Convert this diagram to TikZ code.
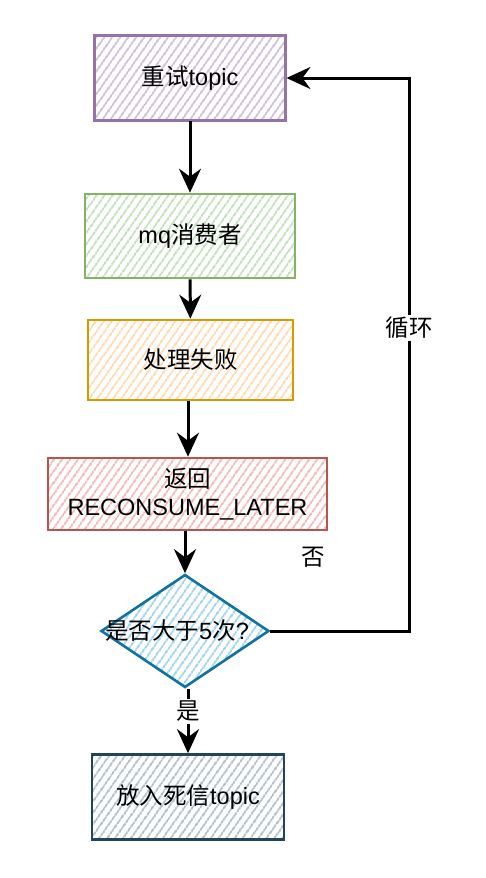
\documentclass[tikz,border=0pt]{standalone}
\usepackage{fontspec}
\setmainfont{Liberation Sans}
\newfontfamily\cjk{Noto Sans CJK SC}
\usetikzlibrary{arrows.meta,shapes.geometric,patterns.meta}
\definecolor{pS}{HTML}{9673A6}\definecolor{pF}{HTML}{CDB9D8}
\definecolor{gS}{HTML}{82B366}\definecolor{gF}{HTML}{BCDDB3}
\definecolor{oS}{HTML}{D79B00}\definecolor{oF}{HTML}{FFD6A8}
\definecolor{rS}{HTML}{B85450}\definecolor{rF}{HTML}{F2B2B0}
\definecolor{bS}{HTML}{10739E}\definecolor{bF}{HTML}{97D0EB}
\definecolor{dS}{HTML}{23445D}\definecolor{dF}{HTML}{A9BAC8}
\tikzset{
  box/.style 2 args={draw=#1, line width=2.6pt, pattern={Lines[angle=55,distance=6.5pt,line width=1.9pt]}, pattern color=#2, rectangle, inner sep=0pt, align=center},
  arr/.style={line width=3pt, -{Stealth[length=24pt,width=22pt,inset=8pt]}},
  lbl/.style={fill=white, inner sep=2pt},
}
\begin{document}
\begin{tikzpicture}[x=1pt,y=-1pt,font=\fontsize{23.5}{28}\selectfont]
\useasboundingbox (0,0) rectangle (486,878);
\node[box={pS}{pF}, minimum width=191pt, minimum height=85pt] (b1) at (190,78) {{\cjk 重试}topic};
\node[box={gS}{gF}, minimum width=210pt, minimum height=84pt] (b2) at (190,236) {mq{\cjk 消费者}};
\node[box={oS}{oF}, minimum width=205pt, minimum height=80pt] (b3) at (190.5,360) {{\cjk 处理失败}};
\node[box={rS}{rF}, minimum width=279pt, minimum height=72pt] (b4) at (187.5,494) {{\cjk 返回}\\RECONSUME\_LATER};
\node[box={bS}{bF}, diamond, minimum width=168pt, minimum height=113pt] (d) at (185,631) {};
\node (dt) at (177,631) {{\cjk 是否大于}5{\cjk 次}?};
\node[box={dS}{dF}, minimum width=192pt, minimum height=85pt] (b5) at (188,797) {{\cjk 放入死信}topic};
\coordinate (c1) at (409,631);
\coordinate (c2) at (409,78);
\draw[arr] (b1) -- (b2);
\draw[arr] (b2) -- (b3);
\draw[arr] (b3.south -| 188,0) -- (b4.north -| 188,0);
\draw[arr] (b4.south -| d.north) -- (d.north);
\draw[arr] (d.south -| b5.north) -- node[lbl, pos=0.35]{\cjk 是} (b5.north);
\draw[arr] (d.east) -- (c1) -- node[lbl, pos=0.548]{\cjk 循环} (c2) -- (b1.east);
\node (no) at (313,557) {\cjk 否};
\end{tikzpicture}
\end{document}
